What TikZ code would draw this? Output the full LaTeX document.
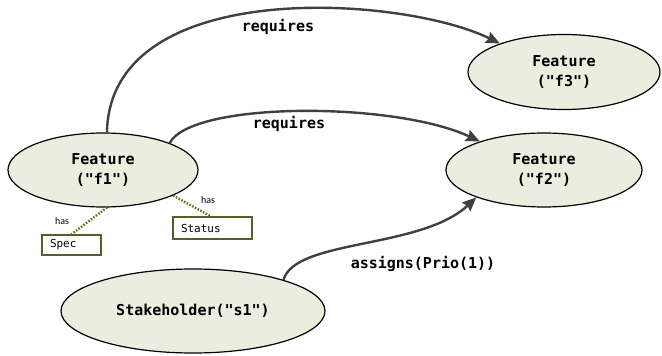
\documentclass[tikz,border=0pt]{standalone}
\usepackage{fontspec}
\setmainfont{Carlito}
\newfontfamily\codefont{DejaVu Sans Mono}
\usetikzlibrary{shapes.geometric,arrows.meta}
\definecolor{entityfill}{RGB}{235,238,222}
\definecolor{attrborder}{RGB}{79,98,40}
\definecolor{attrdots}{RGB}{96,108,36}
\definecolor{relgray}{RGB}{64,64,64}
\tikzset{
  entity/.style={ellipse, draw=black, line width=1.2pt, fill=entityfill,
    inner sep=0pt, align=center, font=\codefont\bfseries\fontsize{15}{20}\selectfont},
  attrbox/.style={draw=attrborder, line width=1.6pt, fill=white, inner ysep=0pt,
    inner xsep=8pt, minimum height=20pt, align=left, font=\codefont\fontsize{11}{13}\selectfont},
  hasline/.style={attrdots, line width=2.4pt, dash pattern=on 1.5pt off 1.6pt},
  haslabel/.style={font=\fontsize{10}{12}\selectfont, inner sep=0pt},
  relation/.style={relgray, line width=2.4pt,
    -{Stealth[length=14pt,width=12pt,inset=2pt]}},
  rellabel/.style={font=\codefont\bfseries\fontsize{15}{18}\selectfont, inner sep=0pt}
}
\begin{document}
\begin{tikzpicture}[x=1pt,y=-1pt]
\useasboundingbox (0,0) rectangle (662,356);

% entities
\node[entity, minimum width=190pt, minimum height=74pt] (f1) at (103,170) {Feature\\("f1")};
\node[entity, minimum width=196pt, minimum height=74pt] (f2) at (544,170) {Feature\\("f2")};
\node[entity, minimum width=192pt, minimum height=75pt] (f3) at (564,72) {Feature\\("f3")};
\node[entity, minimum width=264pt, minimum height=84pt] (s1) at (193,311) {Stakeholder("s1")};

% attributes of f1
\node[attrbox, text width=43pt, minimum height=20pt] (spec) at (71.5,245) {Spec};
\node[attrbox, text width=63pt, minimum height=22pt] (status) at (212.5,228) {Status};
\draw[hasline] (f1.-84) -- (spec.north);
\draw[hasline] (f1.-20) -- ([xshift=-2pt]status.north);
\node[haslabel] (hasspec) at (62,221) {has};
\node[haslabel] (hasstatus) at (208,200) {has};

% relations
\draw[relation] (f1.84) .. controls +(3,-157) and +(-98,-48) .. (f3.156);
\draw[relation] (f1.22) .. controls +(22,-42) and +(-85,-40) .. (f2.156);
\draw[relation] (s1.19) .. controls +(12,-41) and +(-55,52) .. (f2.202);

\node[rellabel] (req3) at (278,27) {requires};
\node[rellabel] (req2) at (289,124) {requires};
\node[rellabel] (assign) at (423,264) {assigns(Prio(1))};
\end{tikzpicture}
\end{document}
